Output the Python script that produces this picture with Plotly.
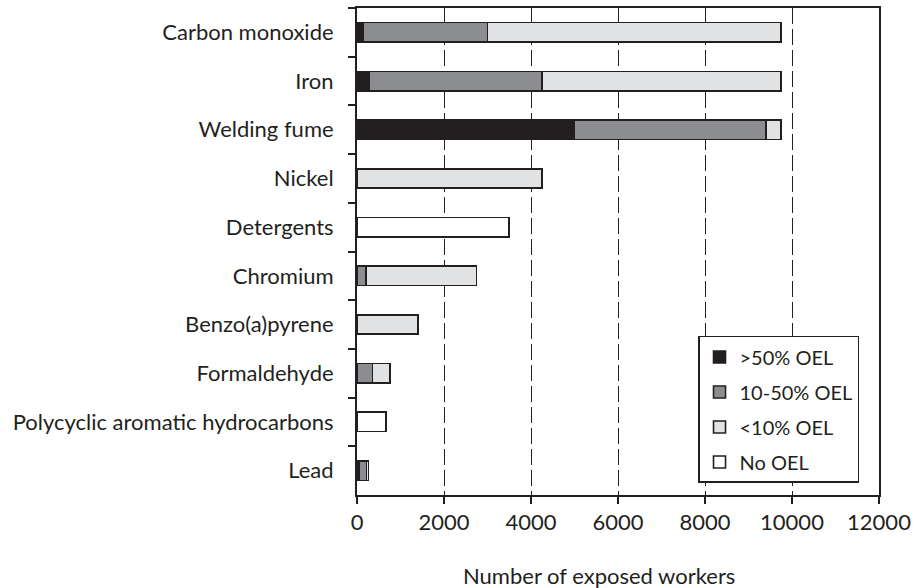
import plotly.graph_objects as go

agents = ["Carbon monoxide", "Iron", "Welding fume", "Nickel", "Detergents",
          "Chromium", "Benzo(a)pyrene", "Formaldehyde",
          "Polycyclic aromatic hydrocarbons", "Lead"]

# exposed workers per exposure band
above_50 = [150, 270, 5000, 0, 0, 0, 0, 0, 0, 60]
from_10_to_50 = [2850, 3980, 4400, 0, 0, 200, 0, 360, 0, 160]
below_10 = [6750, 5500, 350, 4250, 0, 2550, 1400, 400, 0, 40]
no_oel = [0, 0, 0, 0, 3500, 0, 0, 0, 660, 0]

series = [
    (">50% OEL", above_50, "#231f20"),
    ("10-50% OEL", from_10_to_50, "#8c8d90"),
    ("<10% OEL", below_10, "#e1e2e3"),
    ("No OEL", no_oel, "#ffffff"),
]

FONT = "Lato"
INK = "#231f20"

fig = go.Figure()
for name, vals, color in series:
    # one legend group per band so tracegroupgap spreads the entries
    fig.add_trace(go.Bar(
        y=agents, x=vals, name=name, orientation="h", legendgroup=name,
        marker=dict(color=color, line=dict(color=INK, width=1.6)),
    ))

fig.update_layout(
    barmode="stack",
    bargap=0.6,
    width=914, height=588,
    margin=dict(l=357, r=35, t=8, b=93),
    plot_bgcolor="white",
    paper_bgcolor="white",
    font=dict(family=FONT, size=22, color=INK),
    legend=dict(
        x=0.6533, y=0.3265, xanchor="left", yanchor="top",
        bordercolor=INK, borderwidth=1.5, bgcolor="white",
        font=dict(size=20), traceorder="grouped",
        itemwidth=30, tracegroupgap=6,
    ),
)
# axis title sits a little left of the plot centre in the original
fig.add_annotation(
    text="Number of exposed workers", xref="paper", yref="paper",
    x=0.4636, y=-0.1663, xanchor="center", yanchor="middle",
    showarrow=False, font=dict(size=22),
)
fig.update_xaxes(
    range=[0, 12000], dtick=2000, tickformat="d",
    showline=True, linecolor=INK, linewidth=2, mirror=True,
    ticks="outside", ticklen=7, tickcolor=INK, tickwidth=1.5,
    showgrid=True, gridcolor=INK, gridwidth=1.3, griddash="16px,5px",
    zeroline=False, automargin=False, ticklabelstandoff=0,
)
fig.update_yaxes(
    autorange="reversed",
    showline=True, linecolor=INK, linewidth=2, mirror=True,
    ticks="outside", ticklen=7, tickcolor=INK, tickwidth=1.5,
    tickson="boundaries", showgrid=False,
    ticklabelstandoff=17, automargin=False,
)

# drop the default page margin so the figure fills the window exactly
fig.write_html("out.html",
               config={"displayModeBar": False},
               post_script="document.body.style.margin='0';"
                           "document.body.style.overflow='hidden';")
